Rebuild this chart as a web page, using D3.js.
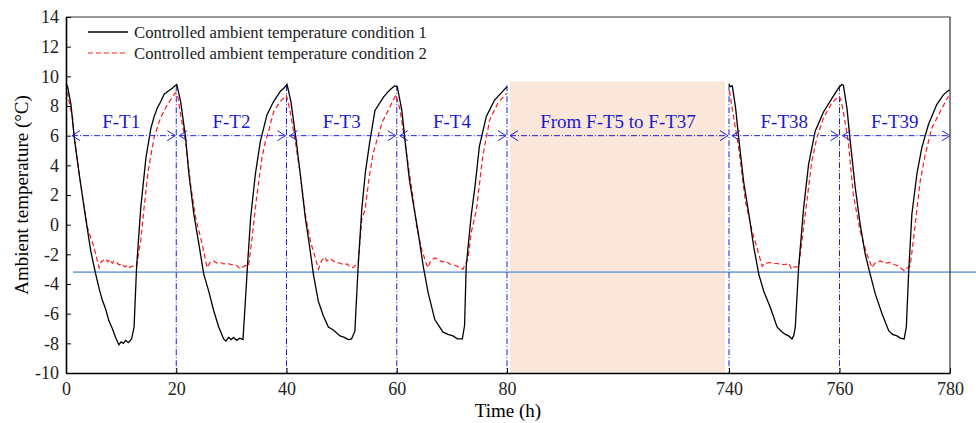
<!DOCTYPE html>
<meta charset="utf-8">
<title>Ambient temperature</title>
<style>
  body { margin: 0; background: #fff; }
  svg text { font-family: "Liberation Serif", "Times New Roman", serif; }
  .axis path, .axis line { stroke: #000; }
  .axis text { font-size: 18px; fill: #222; }
  .c1 { fill: none; stroke: #000; stroke-width: 1.3px; }
  .c2 { fill: none; stroke: #ff1a1a; stroke-width: 1.2px; stroke-dasharray: 5,3; }
  .guide { fill: none; stroke: #1f1fd6; stroke-width: 1px; stroke-dasharray: 6,2,1,2; }
</style>
<body>
<script src="https://d3js.org/d3.v7.min.js"></script>
<script>
// tick labels and segment labels
var xTicks = [0, 20, 40, 60, 80, 740, 760, 780];
var yTicks = [-10, -8, -6, -4, -2, 0, 2, 4, 6, 8, 10, 12, 14];
var bounds = [0, 20, 40, 60, 80, 740, 760, 780];
var segLabels = ["F-T1", "F-T2", "F-T3", "F-T4", "From F-T5 to F-T37", "F-T38", "F-T39"];
var cutLines = [20, 40, 60, 80, 740, 760];
var refLevel = -3.2;
var arrowLevel = 6;

// condition 1 (black), 0-80 h
var cond1A = [[0,9.5],[0.3,9.3],[0.9,8.1],[1.5,5.85],[2.4,3.4],[3.3,1.1],[4.5,-1.8],[5.4,-3.35],[6.0,-4.3],[6.6,-5.1],[7.2,-5.7],[7.8,-6.5],[8.4,-7.0],[9.0,-7.6],[9.6,-8.1],[10.0,-7.9],[10.4,-8.0],[10.8,-7.8],[11.3,-7.95],[11.9,-7.7],[12.35,-6.9],[12.8,-2.9],[13.55,1.1],[14.5,4.5],[15.4,6.5],[16.0,7.3],[16.6,7.9],[17.2,8.3],[17.8,8.8],[18.5,9.0],[19.3,9.2],[19.7,9.35],[20.1,9.45],
  [20.8,8.3],[21.7,5.85],[22.3,3.4],[23.2,0.7],[24.1,-1.3],[25.0,-3.35],[25.9,-4.5],[26.8,-5.8],[27.7,-6.9],[28.6,-7.7],[29.0,-7.85],[29.5,-7.6],[30.0,-7.75],[30.4,-7.6],[31.0,-7.8],[31.5,-7.65],[32.1,-7.75],[32.4,-6.0],[32.9,-2.9],[33.5,0.5],[34.35,3.4],[35.25,5.6],[36.45,7.4],[37.65,8.3],[38.9,9.0],[39.5,9.2],[40.1,9.45],
  [40.8,8.3],[41.7,5.85],[42.5,3.4],[43.4,0.5],[44.2,-1.5],[44.9,-3.4],[45.8,-5.2],[46.7,-6.15],[47.6,-6.9],[48.5,-7.1],[49.7,-7.5],[50.5,-7.6],[51.2,-7.75],[51.8,-7.7],[52.4,-7.2],[53.0,-2.8],[53.65,1.0],[54.3,3.5],[55.15,5.7],[56.05,7.7],[57.6,8.6],[58.5,9.0],[59.1,9.2],[59.6,9.35],[60.1,9.3],
  [60.9,7.75],[61.5,5.7],[62.3,3.0],[63.1,1.2],[63.9,-0.55],[64.8,-2.8],[65.7,-4.6],[66.9,-6.4],[68.4,-7.25],[69.3,-7.4],[70.2,-7.5],[71.0,-7.7],[71.9,-7.7],[72.3,-6.8],[72.6,-2.8],[73.5,0.6],[74.2,2.6],[75.0,5.3],[76.25,7.3],[77.75,8.4],[79.25,9.0],[80,9.3]];

// condition 1 (black), 740-780 h
var cond1B = [[740,9.5],[740.2,9.3],[740.6,9.35],[741.2,7.86],[741.75,5.85],[742.65,2.9],[743.6,0.7],[744.5,-1.55],[745.4,-3.35],[746.3,-4.5],[747.5,-5.6],[748.7,-6.9],[749.5,-7.2],[750.2,-7.4],[750.8,-7.5],[751.4,-7.7],[751.7,-7.5],[752.0,-6.9],[752.6,-2.9],[753.5,1.1],[754.4,4.05],[755.6,6.3],[757.1,7.6],[758.6,8.5],[759.8,9.2],[760.4,9.45],[760.7,9.4],
  [761.35,7.86],[761.95,5.6],[762.85,2.5],[763.75,0.0],[764.66,-2.0],[765.56,-3.35],[766.5,-4.7],[767.7,-6.0],[768.9,-7.15],[769.6,-7.4],[770.4,-7.5],[771.0,-7.65],[771.7,-7.7],[772.1,-6.9],[772.5,-3.35],[773.1,0.7],[774.0,3.4],[774.9,5.2],[776.1,6.75],[777.6,8.1],[778.8,8.75],[779.9,9.1]];

// condition 2 (red dashed), 0-80 h
var cond2A = [[0,8.9],[0.3,8.85],[0.7,8.0],[1.2,7.2],[1.5,5.85],[2.4,3.4],[3.3,1.2],[3.9,-0.2],[5.1,-1.55],[6.0,-2.9],[6.4,-2.5],[6.8,-2.4],[7.2,-2.3],[7.6,-2.5],[8.0,-2.35],[8.4,-2.6],[8.7,-2.45],[9.2,-2.55],[9.6,-2.7],[10.2,-2.65],[10.7,-2.85],[11.0,-2.75],[11.4,-2.9],[12.0,-2.8],[12.8,-2.8],[13.55,-1.1],[14.15,1.1],[14.9,3.6],[15.95,5.85],[17.15,7.2],[18.4,8.1],[19.6,8.75],[19.9,8.9],
  [20.3,8.6],[20.8,7.4],[21.7,5.6],[22.6,2.7],[23.5,0.5],[24.7,-1.3],[25.6,-2.9],[26.2,-2.5],[26.8,-2.45],[27.4,-2.6],[28.0,-2.55],[28.6,-2.65],[29.3,-2.6],[30.0,-2.7],[30.4,-2.7],[31.0,-2.75],[31.5,-2.95],[31.9,-2.9],[32.5,-2.75],[33.1,-2.8],[33.7,-1.1],[34.5,1.6],[35.55,4.5],[36.15,5.6],[36.75,6.3],[37.65,7.6],[38.85,8.3],[39.8,8.65],[40.0,8.7],
  [40.6,7.75],[41.6,5.6],[42.5,3.4],[43.5,0.5],[44.4,-1.2],[45.2,-2.2],[45.8,-3.0],[46.4,-2.4],[47.0,-2.2],[47.3,-2.45],[48.0,-2.3],[48.7,-2.5],[49.7,-2.6],[50.4,-2.7],[51.0,-2.65],[51.5,-2.85],[52.1,-2.9],[53.0,-2.55],[53.65,0.35],[54.25,1.0],[55.0,3.2],[55.75,4.85],[57.3,6.85],[59.1,8.2],[59.85,8.75],
  [60.6,7.75],[61.5,5.5],[63.0,1.7],[63.6,-0.1],[64.5,-1.65],[65.6,-2.9],[66.2,-2.4],[67.0,-2.25],[67.5,-2.35],[68.2,-2.5],[68.9,-2.45],[69.6,-2.65],[70.3,-2.7],[71.0,-2.8],[71.5,-2.95],[72.0,-3.0],[72.5,-2.6],[72.9,-2.35],[73.5,-0.55],[74.45,1.0],[75.6,4.6],[76.85,7.05],[78.35,8.2],[79.9,8.85]];

// condition 2 (red dashed), 740-780 h
var cond2B = [[740,9.0],[740.1,8.98],[740.85,7.2],[741.75,5.2],[742.95,1.6],[744.2,-0.45],[745.4,-2.0],[746.0,-2.8],[746.5,-2.6],[747.5,-2.55],[748.3,-2.6],[749.3,-2.65],[750.1,-2.7],[750.7,-2.6],[751.1,-2.8],[751.3,-3.0],[751.8,-2.85],[752.6,-2.85],[753.2,-1.1],[754.1,1.6],[755.0,4.3],[755.9,5.85],[757.1,7.2],[758.6,8.2],[759.8,8.65],[760.2,8.5],
  [760.7,7.6],[761.6,5.6],[762.5,2.0],[763.75,-0.45],[764.96,-2.0],[765.9,-2.9],[766.4,-2.6],[767.4,-2.45],[768.2,-2.6],[769.2,-2.55],[770.0,-2.7],[770.7,-2.8],[771.2,-2.95],[771.7,-3.1],[772.3,-2.9],[772.8,-2.8],[773.7,0.0],[774.6,2.9],[775.5,4.7],[776.7,6.5],[778.2,7.6],[779.7,8.65]];

var W = 976, H = 423;
var pLeft = 66, pRight = 950, pTop = 17, pBottom = 373;

// broken time axis: 80..740 squeezed into the shaded band
var x = d3.scaleLinear().domain([0, 80, 740, 780]).range([pLeft, 507, 729, pRight]);
var y = d3.scaleLinear().domain([-10, 14]).range([pBottom, pTop]);

var svg = d3.select("body").append("svg")
    .attr("width", W)
    .attr("height", H);

// shaded band
svg.append("rect")
    .attr("x", x(80) + 3)
    .attr("y", y(9.65))
    .attr("width", x(740) - x(80) - 7)
    .attr("height", pBottom - y(9.65))
    .attr("fill", "#fbe7da");

// reference level
svg.append("line")
    .attr("x1", pLeft + 7).attr("x2", W)
    .attr("y1", y(refLevel)).attr("y2", y(refLevel))
    .attr("stroke", "#7fa7d8").attr("stroke-width", 1.6);

// vertical cut lines
svg.selectAll(".cut")
    .data(cutLines)
    .enter().append("line")
    .attr("class", "guide")
    .attr("x1", function(d) { return x(d); })
    .attr("x2", function(d) { return x(d); })
    .attr("y1", y(9.4))
    .attr("y2", pBottom);

// the curves
var line = d3.line()
    .x(function(d) { return x(d[0]); })
    .y(function(d) { return y(d[1]); });

[cond2A, cond2B].forEach(function(s) {
  svg.append("path").datum(s).attr("class", "c2").attr("d", line);
});
[cond1A, cond1B].forEach(function(s) {
  svg.append("path").datum(s).attr("class", "c1").attr("d", line);
});

// double-headed arrows with labels
var ay = y(arrowLevel);
for (var i = 0; i < segLabels.length; i++) {
  var x0 = i === 0 ? x(bounds[i]) + 6 : x(bounds[i]) + 3;
  var x1 = i === segLabels.length - 1 ? x(bounds[i + 1]) : x(bounds[i + 1]) - 1;
  svg.append("line").attr("class", "guide")
      .attr("x1", x0).attr("x2", x1).attr("y1", ay).attr("y2", ay);
  svg.append("path").attr("fill", "none").attr("stroke", "#1f1fd6")
      .attr("d", "M" + (x0 + 8) + "," + (ay - 5) + "L" + x0 + "," + ay + "L" + (x0 + 8) + "," + (ay + 5));
  svg.append("path").attr("fill", "none").attr("stroke", "#1f1fd6")
      .attr("d", "M" + (x1 - 8) + "," + (ay - 5) + "L" + x1 + "," + ay + "L" + (x1 - 8) + "," + (ay + 5));
  svg.append("text")
      .attr("x", (x(bounds[i]) + x(bounds[i + 1])) / 2)
      .attr("y", ay - 8)
      .attr("text-anchor", "middle")
      .style("font-size", "19px")
      .style("fill", "#1a1acc")
      .text(segLabels[i]);
}

// frame top and right
svg.append("path")
    .attr("d", "M" + pLeft + "," + pTop + "H" + pRight + "V" + pBottom)
    .attr("fill", "none").attr("stroke", "#333").attr("stroke-width", 1.2);

// x axis
var gx = svg.append("g")
    .attr("class", "axis")
    .attr("transform", "translate(0," + pBottom + ")")
    .call(d3.axisBottom(x).tickValues(xTicks).tickSizeInner(-5).tickSizeOuter(0)
      .tickFormat(function(d) { return String(d); }));
gx.select(".domain").attr("stroke-width", 1.6);
gx.selectAll("text").attr("y", 22).attr("dy", 0);

// y axis
var gy = svg.append("g")
    .attr("class", "axis")
    .attr("transform", "translate(" + pLeft + ",0)")
    .call(d3.axisLeft(y).tickValues(yTicks).tickSizeInner(-5).tickSizeOuter(0)
      .tickFormat(function(d) { return String(d); }));
gy.select(".domain").attr("stroke-width", 1.6);
gy.selectAll("text").attr("x", -7);

// axis titles
svg.append("text")
    .attr("x", 508).attr("y", 417)
    .attr("text-anchor", "middle")
    .style("font-size", "19px")
    .text("Time (h)");

svg.append("text")
    .attr("transform", "translate(28," + ((pTop + pBottom) / 2) + ") rotate(-90)")
    .attr("text-anchor", "middle")
    .style("font-size", "19px")
    .text("Ambient temperature (\u00B0C)");

// legend
var legend = [
  {cls: "c1", label: "Controlled ambient temperature condition 1", y: 32},
  {cls: "c2", label: "Controlled ambient temperature condition 2", y: 53}
];
legend.forEach(function(d) {
  svg.append("line").attr("class", d.cls)
      .attr("x1", 88).attr("x2", 128).attr("y1", d.y).attr("y2", d.y);
  svg.append("text")
      .attr("x", 134).attr("y", d.y + 5.5)
      .style("font-size", "16.7px")
      .style("fill", "#222")
      .text(d.label);
});
</script>
</body>
